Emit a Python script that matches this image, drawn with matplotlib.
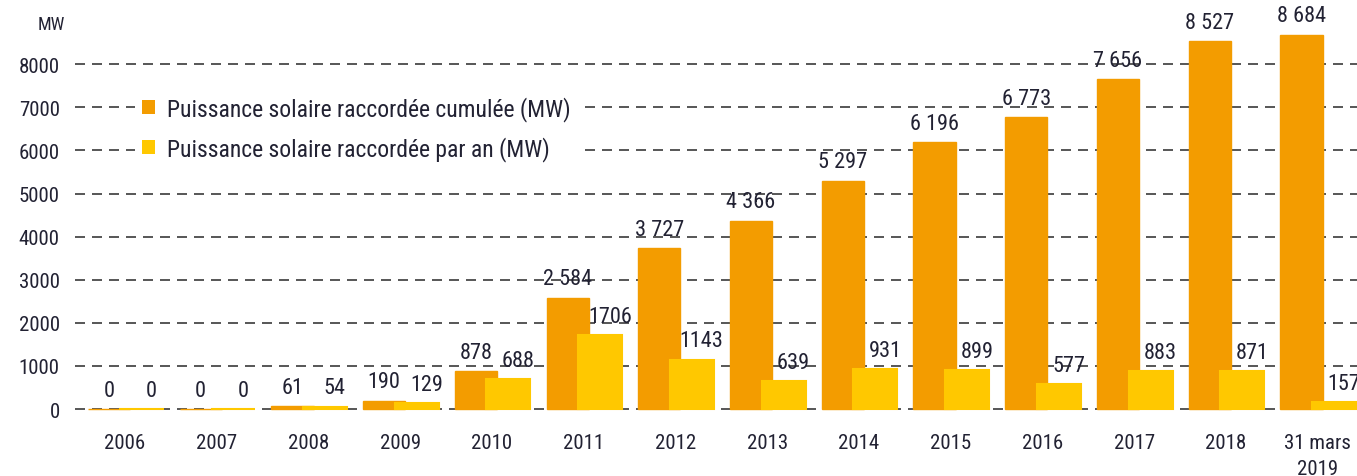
import matplotlib
matplotlib.use("Agg")
import matplotlib.pyplot as plt
from matplotlib import font_manager
from matplotlib.patches import Patch
import numpy as np

categories = ["2006", "2007", "2008", "2009", "2010", "2011", "2012", "2013",
              "2014", "2015", "2016", "2017", "2018", "31 mars\n2019"]
cumul = [0, 0, 61, 190, 878, 2584, 3727, 4366, 5297, 6196, 6773, 7656, 8527, 8684]
annual = [0, 0, 54, 129, 688, 1706, 1143, 639, 931, 899, 577, 883, 871, 157]
yticks = [0, 1000, 2000, 3000, 4000, 5000, 6000, 7000, 8000]
legend_labels = ["Puissance solaire raccordée cumulée (MW)",
                 "Puissance solaire raccordée par an (MW)"]

available = {f.name for f in font_manager.fontManager.ttflist}
fam = "DejaVu Sans"
for cand in ["Roboto Condensed", "Archivo Narrow", "Asap Condensed", "Barlow Condensed", "Liberation Sans Narrow"]:
    if cand in available:
        fam = cand
        break
plt.rcParams["font.family"] = [fam, "DejaVu Sans"]

C_CUM = "#F39C00"
C_AN = "#FFC800"
TXT = "#222233"

W, H = 1357, 477
fig = plt.figure(figsize=(W / 100, H / 100), dpi=100)
ax = fig.add_axes([75 / W, (H - 415) / H, 1 - 75 / W, (415 - 30) / H])

x = np.arange(len(categories))
ax.bar(x - 0.175, cumul, width=0.46, color=C_CUM, edgecolor=C_CUM, linewidth=1.0, zorder=2)
ax.bar(x + 0.18, annual, width=0.48, color=C_AN, edgecolor=C_AN, linewidth=1.5, zorder=3)

for xi, v in zip(x, cumul):
    ax.annotate(f"{v:,}".replace(",", " "), (xi - 0.175, v), xytext=(0, 6),
                textcoords="offset points", ha="center", va="bottom",
                fontsize=16, color=TXT, zorder=5, annotation_clip=False)
for xi, v in zip(x, annual):
    ax.annotate(f"{v}", (xi + 0.18, v), xytext=(7, 6),
                textcoords="offset points", ha="center", va="bottom",
                fontsize=16, color=TXT, zorder=5, annotation_clip=False)

ax.set_xlim(-0.545, 13.43)
ax.set_ylim(-116, 8817)
ax.set_yticks(yticks)
ax.set_yticklabels([str(t) for t in yticks], fontsize=15, color=TXT)
ax.set_xticks(x)
ax.set_xticklabels(categories, fontsize=15, color=TXT, linespacing=1.45)
ax.tick_params(axis="both", length=0)
ax.tick_params(axis="y", pad=11)
ax.tick_params(axis="x", pad=14)
for s in ax.spines.values():
    s.set_visible(False)
ax.yaxis.grid(True, color="#3a3a3a", linewidth=1.2, linestyle=(0, (6, 4.2)), zorder=1)
ax.set_axisbelow(True)

fig.text(38 / W, 1 - 25 / H, "MW", fontsize=13, color=TXT, va="center", ha="left")

handles = [Patch(facecolor=C_CUM, edgecolor="none"), Patch(facecolor=C_AN, edgecolor="none")]
leg = ax.legend(handles, legend_labels, loc="upper left",
                bbox_to_anchor=(135 / W, 1 - 90 / H), bbox_transform=fig.transFigure,
                fontsize=17, frameon=True, facecolor="white", edgecolor="none",
                framealpha=1, fancybox=False, handlelength=0.55, handleheight=0.55,
                handletextpad=0.5, labelspacing=0.62, borderpad=0.3, borderaxespad=0)
for t in leg.get_texts():
    t.set_color(TXT)
leg.set_zorder(4)

fig.savefig("out.png", dpi=100)
